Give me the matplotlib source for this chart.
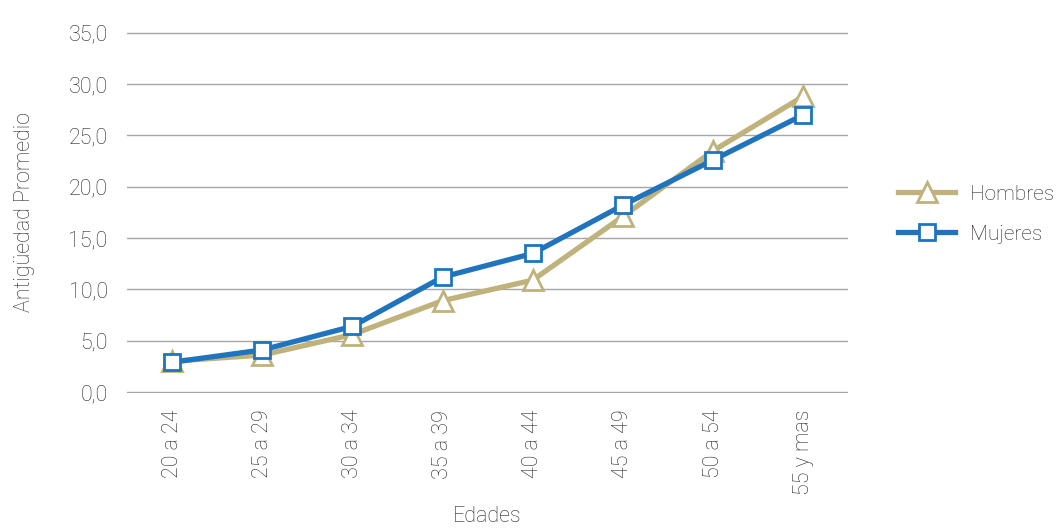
import matplotlib
matplotlib.use("Agg")
import matplotlib.pyplot as plt
from matplotlib.ticker import FuncFormatter

# ---------------------------------------------------------------------------
# Data
# ---------------------------------------------------------------------------

edades = ["20 a 24", "25 a 29", "30 a 34", "35 a 39",
          "40 a 44", "45 a 49", "50 a 54", "55 y mas"]
hombres = [3.0, 3.6, 5.6, 8.9, 10.9, 17.1, 23.5, 28.8]
mujeres = [2.9, 4.1, 6.4, 11.2, 13.5, 18.2, 22.6, 27.0]

y_ticks = [0, 5, 10, 15, 20, 25, 30, 35]

# ---------------------------------------------------------------------------
# Plot
# ---------------------------------------------------------------------------

plt.rcParams["font.family"] = ["Roboto", "DejaVu Sans"]
text_color = "#262626"
fs = 15.5

fig = plt.figure(figsize=(10.59, 5.29), dpi=100)
ax = fig.add_axes([0.12, 0.257, 0.681, 0.683])

x = list(range(len(edades)))
ax.plot(x, hombres, color="#BFB27A", lw=3.8, marker="^", ms=14,
        mfc="white", mec="#BFB27A", mew=2, label="Hombres", zorder=3)
ax.plot(x, mujeres, color="#1F74BD", lw=3.8, marker="s", ms=11,
        mfc="white", mec="#1F74BD", mew=2, label="Mujeres", zorder=4)

ax.set_xlim(-0.5, len(edades) - 0.5)
ax.set_ylim(-0.1, 35.1)
ax.set_yticks(y_ticks)
ax.yaxis.set_major_formatter(FuncFormatter(lambda v, _: f"{v:.1f}".replace(".", ",")))
ax.set_xticks(x)
ax.set_xticklabels(edades, rotation=90)

ax.grid(axis="y", color="#A6A6A6", lw=1)
ax.set_axisbelow(True)
for s in ax.spines.values():
    s.set_visible(False)
ax.tick_params(length=0, labelsize=fs, labelcolor=text_color)
ax.tick_params(axis="y", pad=14)
ax.tick_params(axis="x", pad=12)
for lab in ax.get_xticklabels() + ax.get_yticklabels():
    lab.set_fontweight("light")

ax.set_xlabel("Edades", fontsize=fs, color=text_color, fontweight="light", labelpad=8)
ax.set_ylabel("Antigüedad Promedio", fontsize=fs, color=text_color,
              fontweight="light", labelpad=24)

leg = ax.legend(loc="center left", bbox_to_anchor=(1.043, 0.495), frameon=False,
                fontsize=15, handlelength=2.75, handletextpad=0.7, labelspacing=1.0)
for t in leg.get_texts():
    t.set_color(text_color)
    t.set_fontweight("light")

plt.savefig("out.png", dpi=100)
plt.close(fig)
